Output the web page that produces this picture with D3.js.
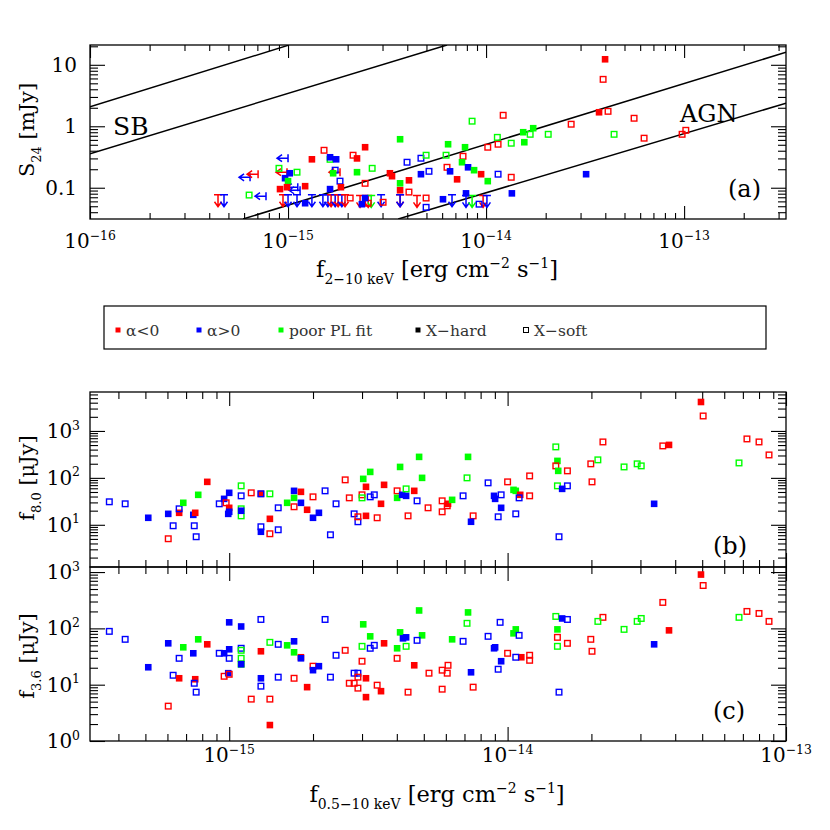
<!DOCTYPE html>
<html>
<head>
<meta charset="utf-8">
<script src="https://cdn.jsdelivr.net/npm/d3@7"></script>
<style>
  body { margin: 0; background: #fff; }
  svg text { font-family: "DejaVu Serif", serif; fill: #000; white-space: pre; }
</style>
</head>
<body>
<script>
// fluxes below are in units of 1e-15 erg cm^-2 s^-1
var FLUX_UNIT = 1e-15;
var groups = ["neg", "pos", "poor"];
var groupColors = ["#ff0000", "#0000ff", "#00ff00"];
var legendLabels = ["α<0", "α>0", "poor PL fit", "X−hard", "X−soft"];

// panel (a): [f(2-10 keV), S24 mJy, group]
var s24Hard = [
  [0.966,0.143,"pos"],[1.0,0.128,"poor"],[0.911,0.095,"neg"],[0.988,0.102,"neg"],[1.22,0.106,"neg"],
  [1.22,0.056,"pos"],[1.32,0.29,"neg"],[1.63,0.313,"pos"],[1.75,0.29,"pos"],[1.69,0.172,"poor"],
  [1.02,0.172,"pos"],[1.63,0.095,"pos"],[1.85,0.102,"neg"],[2.23,0.30,"neg"],[2.23,0.179,"poor"],
  [2.45,0.456,"neg"],[2.36,0.054,"pos"],[2.45,0.068,"pos"],[3.68,0.615,"poor"],[3.27,0.172,"neg"],
  [3.35,0.154,"neg"],[4.08,0.132,"neg"],[3.68,0.118,"poor"],[3.68,0.091,"neg"],[4.69,0.166,"pos"],
  [6.43,0.51,"poor"],[7.83,0.456,"poor"],[7.56,0.26,"poor"],[8.11,0.215,"pos"],[6.58,0.185,"pos"],
  [8.70,0.193,"poor"],[7.14,0.137,"neg"],[9.44,0.166,"neg"],[10.2,0.128,"poor"],[6.06,0.065,"pos"],
  [7.92,0.081,"pos"],[13.5,0.081,"pos"],[17.3,0.93,"poor"],[15.4,0.80,"poor"],[15.6,0.55,"poor"],
  [32.0,0.166,"pos"],[39.9,12.3,"neg"],[37.2,1.69,"neg"]
];
var s24Soft = [
  [0.636,0.076,"poor"],[0.90,0.207,"poor"],[1.11,0.179,"poor"],[1.52,0.407,"neg"],[1.63,0.29,"poor"],
  [1.73,0.193,"pos"],[1.83,0.128,"pos"],[2.13,0.338,"neg"],[2.66,0.207,"poor"],[2.45,0.118,"neg"],
  [2.06,0.068,"neg"],[3.02,0.058,"neg"],[2.54,0.056,"neg"],[3.99,0.26,"pos"],[4.69,0.302,"pos"],
  [4.98,0.338,"poor"],[5.15,0.185,"pos"],[4.08,0.085,"neg"],[4.98,0.068,"neg"],[4.98,0.048,"pos"],
  [6.28,0.338,"poor"],[7.65,0.325,"neg"],[6.35,0.215,"neg"],[11.5,0.166,"pos"],[10.2,0.456,"neg"],
  [11.5,0.51,"neg"],[11.4,0.66,"poor"],[8.50,1.21,"poor"],[12.2,1.51,"neg"],[13.4,0.53,"poor"],
  [16.7,0.74,"poor"],[20.6,0.74,"poor"],[26.9,1.08,"neg"],[13.4,0.148,"neg"],[9.22,0.054,"pos"],
  [39.0,5.8,"neg"],[41.3,1.75,"neg"],[55.9,1.35,"neg"],[44.3,0.74,"poor"],[62.8,0.64,"neg"],
  [97.7,0.74,"neg"],[102,0.86,"neg"]
];
// upper limits on S24
var s24LimitS = [
  [0.443,0.077,"neg"],[0.475,0.077,"pos"],[0.943,0.077,"neg"],[1.0,0.077,"pos"],[1.11,0.077,"pos"],
  [1.32,0.077,"pos"],[1.50,0.077,"pos"],[1.59,0.077,"pos"],[1.65,0.077,"neg"],[1.73,0.077,"pos"],
  [1.79,0.077,"neg"],[1.87,0.077,"pos"],[1.94,0.077,"neg"],[2.31,0.075,"neg"],[2.54,0.075,"neg"],
  [2.63,0.075,"poor"],[2.95,0.077,"pos"],[3.68,0.077,"neg"],[3.68,0.077,"pos"],[4.48,0.075,"neg"],
  [6.73,0.077,"pos"],[7.92,0.075,"pos"],[8.50,0.075,"poor"],[9.66,0.075,"neg"],[10.1,0.075,"pos"]
];
// upper limits on f(2-10 keV)
var s24LimitF = [
  [1.0,0.302,"pos"],[0.643,0.148,"pos"],[0.706,0.166,"neg"],[0.774,0.073,"pos"],[0.988,0.179,"neg"],
  [1.12,0.102,"pos"],[1.15,0.091,"pos"],[1.83,0.179,"neg"]
];
// SB and AGN loci, [f, S24] end points (cgs, mJy)
var sbLines = [[[1e-16,2.07],[1e-15,20.7]], [[1e-16,0.357],[6.35e-15,21]]];
var agnLines = [[[5.93e-16,0.031],[3.27e-13,16.0]], [[3.6e-15,0.031],[3.27e-13,2.37]]];

// panel (b): [f(0.5-10 keV), f8.0 uJy, group, H=hard/S=soft]
var f80Points = [
  [0.371,30.9,"pos","S"],[0.423,28.0,"pos","S"],[0.512,14.1,"pos","H"],[0.604,17.1,"pos","H"],[0.604,5.04,"neg","S"],
  [0.629,9.53,"pos","S"],[0.661,18.0,"neg","H"],[0.661,21.9,"pos","S"],[0.684,29.4,"poor","H"],[0.743,16.3,"pos","H"],
  [0.755,18.0,"neg","H"],[0.749,9.53,"pos","S"],[0.761,5.56,"pos","S"],[0.774,43.5,"poor","H"],[0.834,82.2,"neg","H"],
  [0.921,28.0,"pos","S"],[0.959,35.7,"pos","H"],[0.975,29.4,"neg","S"],[1.0,48.0,"pos","H"],[1.0,23.0,"neg","H"],
  [0.992,17.1,"pos","H"],[1.0,18.9,"pos","H"],[1.104,67.6,"poor","S"],[1.104,41.4,"pos","S"],[1.104,21.9,"poor","S"],
  [1.104,15.5,"poor","S"],[1.104,19.9,"pos","H"],[1.20,48.0,"neg","S"],[1.30,45.7,"neg","H"],[1.30,45.7,"pos","S"],
  [1.40,45.7,"poor","S"],[1.30,9.07,"pos","S"],[1.30,7.10,"pos","H"],[1.40,13.4,"neg","H"],[1.40,6.44,"neg","S"],
  [1.50,23.0,"pos","S"],[1.50,7.83,"pos","S"],[1.615,29.4,"poor","H"],[1.71,37.5,"poor","H"],[1.71,24.2,"neg","S"],
  [1.71,52.9,"pos","H"],[1.81,50.4,"neg","H"],[1.81,29.4,"pos","H"],[1.905,20.9,"neg","H"],[2.00,39.4,"neg","S"],
  [2.00,14.1,"pos","H"],[2.10,18.0,"pos","H"],[2.21,52.9,"pos","S"],[2.42,28.0,"pos","S"],[2.31,6.12,"pos","S"],
  [2.61,90.7,"neg","S"],[2.70,37.5,"neg","S"],[3.03,95.2,"poor","H"],[2.81,17.1,"pos","S"],[2.90,11.6,"pos","S"],
  [2.90,14.8,"neg","S"],[3.10,64.4,"neg","H"],[3.10,15.5,"neg","H"],[3.00,43.5,"neg","S"],[3.00,37.5,"poor","S"],
  [3.40,14.1,"neg","S"],[3.21,39.4,"pos","S"],[3.32,43.5,"pos","S"],[3.21,134,"poor","H"],[3.51,28.0,"neg","H"],
  [3.60,71.0,"neg","H"],[4.11,171,"poor","H"],[4.81,280,"poor","H"],[4.93,100,"poor","H"],[4.01,52.9,"neg","S"],
  [4.01,37.5,"poor","H"],[4.18,43.5,"pos","H"],[4.32,41.4,"pos","H"],[4.32,58.3,"poor","S"],[4.62,52.9,"neg","H"],
  [4.73,32.4,"pos","S"],[4.39,15.5,"neg","S"],[5.18,23.0,"neg","S"],[5.82,32.4,"neg","S"],[5.82,18.9,"neg","S"],
  [6.07,25.4,"neg","S"],[6.11,28.0,"neg","H"],[6.32,34.0,"poor","H"],[6.92,41.4,"pos","S"],[7.52,15.5,"neg","S"],
  [7.39,11.6,"pos","H"],[7.21,280,"poor","H"],[7.15,100,"poor","S"],[8.51,78.3,"pos","S"],[10.0,82.2,"neg","S"],
  [10.5,55.5,"poor","H"],[10.7,52.9,"poor","H"],[11.1,43.5,"neg","H"],[11.0,37.5,"pos","S"],[8.94,41.4,"pos","H"],
  [9.02,35.7,"pos","H"],[9.48,43.5,"pos","S"],[9.48,23.0,"pos","H"],[9.25,14.8,"pos","S"],[10.7,17.1,"pos","S"],
  [12.0,110,"neg","S"],[12.0,41.4,"neg","S"],[14.9,457,"poor","S"],[15.1,230,"poor","H"],[14.9,180,"neg","S"],
  [15.2,141,"poor","H"],[16.4,141,"neg","S"],[15.1,67.6,"poor","S"],[15.7,58.3,"pos","H"],[16.4,67.6,"pos","S"],
  [15.3,5.56,"pos","S"],[19.9,199,"neg","S"],[20.1,82.2,"neg","S"],[22.0,583,"neg","S"],[21.1,242,"poor","S"],
  [26.2,171,"poor","S"],[29.2,199,"poor","S"],[30.2,180,"poor","S"],[33.6,28.0,"pos","H"],[36.1,480,"neg","S"],
  [38.0,504,"neg","H"],[49.5,4140,"neg","H"],[50.4,2085,"neg","S"],[67.8,208,"poor","S"],[72.4,676,"neg","S"],
  [80.0,583,"neg","S"],[86.9,308,"neg","S"]
];
// panel (c): [f(0.5-10 keV), f3.6 uJy, group, H/S]
var f36Points = [
  [0.371,88.5,"pos","S"],[0.423,63.9,"pos","S"],[0.512,20.4,"pos","H"],[0.604,54.3,"pos","H"],[0.604,4.16,"neg","S"],
  [0.629,14.7,"pos","S"],[0.661,13.0,"neg","H"],[0.661,29.4,"pos","S"],[0.684,46.1,"poor","H"],[0.743,36.1,"pos","H"],
  [0.755,12.5,"neg","H"],[0.749,10.6,"pos","S"],[0.761,7.37,"pos","S"],[0.774,63.9,"poor","H"],[0.834,52.1,"neg","H"],
  [0.921,36.1,"pos","S"],[0.959,36.1,"pos","H"],[0.959,14.1,"neg","S"],[1.0,128,"pos","H"],[1.0,42.5,"pos","H"],
  [0.992,16.0,"pos","H"],[1.0,15.3,"neg","S"],[1.0,29.4,"pos","S"],[1.104,108,"pos","H"],[1.104,44.3,"pos","S"],
  [1.104,40.8,"poor","S"],[1.104,29.4,"poor","S"],[1.104,23.1,"poor","S"],[1.104,23.1,"pos","H"],[1.20,5.54,"neg","S"],
  [1.30,39.2,"neg","H"],[1.30,144,"pos","S"],[1.40,56.5,"poor","S"],[1.30,13.0,"pos","H"],[1.30,9.41,"pos","S"],
  [1.40,1.92,"neg","H"],[1.40,5.54,"neg","S"],[1.50,52.1,"pos","S"],[1.50,13.6,"pos","S"],[1.615,50.0,"poor","H"],
  [1.71,37.6,"poor","H"],[1.71,58.9,"pos","H"],[1.71,13.0,"neg","S"],[1.81,30.7,"neg","H"],[1.81,29.4,"pos","H"],
  [1.905,9.04,"neg","H"],[2.00,21.3,"neg","S"],[2.00,18.1,"pos","H"],[2.10,21.3,"pos","H"],[2.21,144,"pos","S"],
  [2.42,33.3,"pos","S"],[2.31,13.6,"pos","S"],[2.61,40.8,"neg","S"],[2.70,10.6,"neg","S"],[3.03,118,"poor","H"],
  [2.81,16.0,"pos","S"],[2.90,16.0,"pos","S"],[2.81,10.6,"neg","S"],[2.90,8.68,"neg","S"],[2.90,13.6,"neg","S"],
  [3.10,13.0,"neg","H"],[3.10,6.01,"neg","H"],[3.00,26.1,"neg","S"],[3.00,48.0,"poor","S"],[3.40,9.8,"neg","S"],
  [3.21,44.3,"pos","S"],[3.32,50.0,"pos","S"],[3.21,72.2,"poor","H"],[3.51,7.67,"neg","H"],[3.60,54.3,"neg","H"],
  [4.11,85.0,"poor","H"],[4.81,208,"poor","H"],[4.93,75.2,"poor","H"],[4.01,29.4,"neg","S"],[4.01,44.3,"poor","H"],
  [4.21,66.5,"pos","H"],[4.32,69.3,"pos","H"],[4.32,48.0,"poor","S"],[4.62,22.1,"neg","H"],[4.73,61.3,"pos","S"],
  [4.39,7.37,"neg","S"],[5.22,16.0,"neg","S"],[5.82,18.1,"neg","S"],[5.82,8.32,"neg","S"],[6.07,16.0,"neg","S"],
  [6.11,22.1,"neg","S"],[6.32,63.9,"poor","H"],[6.92,58.9,"pos","S"],[7.52,9.04,"neg","S"],[7.39,16.6,"pos","H"],
  [7.21,192,"poor","H"],[7.15,123,"poor","S"],[8.51,72.2,"pos","S"],[9.40,128,"pos","S"],[9.02,46.1,"pos","H"],
  [8.94,44.3,"pos","H"],[9.48,26.1,"pos","H"],[9.25,18.8,"pos","S"],[10.0,36.1,"neg","S"],[10.5,81.6,"poor","H"],
  [10.7,96.0,"poor","H"],[11.0,75.2,"pos","S"],[11.2,30.7,"neg","H"],[10.7,30.7,"pos","S"],[12.0,33.3,"neg","S"],
  [12.0,27.1,"neg","S"],[14.9,163,"poor","S"],[15.7,150,"pos","H"],[16.4,144,"pos","S"],[15.1,96.0,"poor","H"],
  [15.1,69.3,"neg","S"],[16.4,54.3,"neg","S"],[15.1,48.0,"poor","S"],[15.3,7.37,"pos","S"],[19.9,63.9,"neg","S"],
  [20.1,39.2,"neg","S"],[22.0,157,"neg","S"],[21.1,133,"poor","S"],[26.2,96.0,"poor","S"],[29.2,133,"poor","S"],
  [30.2,150,"poor","S"],[33.6,52.1,"pos","H"],[36.1,289,"neg","S"],[38.0,92.2,"neg","H"],[49.5,903,"neg","H"],
  [50.4,577,"neg","S"],[67.8,157,"poor","S"],[72.4,200,"neg","S"],[80.0,184,"neg","S"],[86.9,133,"neg","S"]
];

var svg = d3.select("body").append("svg").attr("width", 830).attr("height", 830);
var color = d3.scaleOrdinal().domain(groups).range(groupColors);
var plotL = 90, plotR = 786;

var xA = d3.scaleLog().domain([1e-16, 3.27e-13]).range([plotL, plotR]),
  yA = d3.scaleLog().domain([0.031, 21]).range([219, 45]);
var xBC = d3.scaleLog().domain([Math.pow(10, -15.5), 1e-13]).range([plotL, plotR]),
  yB = d3.scaleLog().domain([1.26, 6760]).range([567, 392]),
  yC = d3.scaleLog().domain([1, 1230]).range([741, 567]);

function logTicks(scale) {
  var d = scale.domain(), lo = Math.min(d[0], d[1]), hi = Math.max(d[0], d[1]);
  var major = [], minor = [];
  for (var e = Math.floor(Math.log10(lo)); e <= Math.ceil(Math.log10(hi)); e++) {
    for (var m = 1; m <= 9; m++) {
      var v = m * Math.pow(10, e);
      if (v < lo * 0.9999 || v > hi * 1.0001) continue;
      if (m === 1) major.push(v); else minor.push(v);
    }
  }
  return {major: major, minor: minor};
}

function tickSet(axis, scale, tr, majLen, minLen) {
  var t = logTicks(scale);
  [[t.major, majLen], [t.minor, minLen]].forEach(function (p) {
    svg.append("g").attr("transform", tr)
      .call(axis(scale).tickValues(p[0]).tickSize(-p[1]).tickFormat(""))
      .call(function (g) { g.select(".domain").remove(); })
      .selectAll("line").attr("stroke", "#000").attr("stroke-width", 1.1);
  });
}

function frame(x0, y0, x1, y1) {
  svg.append("rect").attr("x", x0).attr("y", y0).attr("width", x1 - x0).attr("height", y1 - y0)
    .attr("fill", "none").attr("stroke", "#000").attr("stroke-width", 1.3);
}

// text with sub/superscripts: parts = [[text, ""|"sub"|"sup"], ...]
function rich(t, parts, size) {
  var shift = 0;
  parts.forEach(function (p) {
    var kind = p[1] || "";
    var target = kind === "sub" ? size * 0.32 : kind === "sup" ? -size * 0.42 : 0;
    t.append("tspan").attr("dy", target - shift)
      .style("font-size", (kind ? size * 0.62 : size) + "px").text(p[0]);
    shift = target;
  });
  return t;
}

function powLabel(x, y, exp, anchor) {
  var t = svg.append("text").attr("x", x).attr("y", y).attr("text-anchor", anchor);
  return rich(t, [["10"], [exp, "sup"]], 20);
}

function expOf(v) { return String(Math.round(Math.log10(v))).replace("-", "−"); }

// ---------- panel (a)
frame(plotL, 45, plotR, 219);
tickSet(d3.axisBottom, xA, "translate(0,219)", 13, 6);
tickSet(d3.axisTop, xA, "translate(0,45)", 13, 6);
tickSet(d3.axisLeft, yA, "translate(" + plotL + ",0)", 15, 8);
tickSet(d3.axisRight, yA, "translate(" + plotR + ",0)", 15, 8);

logTicks(xA).major.forEach(function (v) { powLabel(xA(v), 248, expOf(v), "middle"); });
[[0.1, "0.1"], [1, "1"], [10, "10"]].forEach(function (p) {
  svg.append("text").attr("x", 77).attr("y", yA(p[0]) + 7).attr("text-anchor", "end")
    .style("font-size", "20px").text(p[1]);
});

svg.append("clipPath").attr("id", "clipA").append("rect")
  .attr("x", plotL).attr("y", 45).attr("width", plotR - plotL).attr("height", 174);

var locus = d3.line().x(function (d) { return xA(d[0]); }).y(function (d) { return yA(d[1]); });
svg.append("g").attr("clip-path", "url(#clipA)").selectAll("path")
  .data(sbLines.concat(agnLines)).enter().append("path")
  .attr("d", locus).attr("fill", "none").attr("stroke", "#000").attr("stroke-width", 1.5);

svg.append("text").attr("x", 113).attr("y", 135).style("font-size", "25px").text("SB");
svg.append("text").attr("x", 680).attr("y", 122).style("font-size", "24px").text("AGN");

function drawSquares(rows, xs, ys, isHard) {
  svg.append("g").selectAll("rect").data(rows).enter().append("rect")
    .each(function (d) {
      var hard = isHard(d), s = hard ? 6.6 : 5.6;
      d3.select(this)
        .attr("x", xs(d[0] * FLUX_UNIT) - s / 2).attr("y", ys(d[1]) - s / 2)
        .attr("width", s).attr("height", s)
        .attr("fill", hard ? color(d[2]) : "none")
        .attr("stroke", hard ? "none" : color(d[2]))
        .attr("stroke-width", 1.4);
    });
}

function downArrow(d) {
  var x = xA(d[0] * FLUX_UNIT), y = yA(d[1]);
  return "M" + (x - 4) + "," + y + "H" + (x + 4) + "M" + x + "," + y + "V" + (y + 12) +
    "M" + (x - 3.5) + "," + (y + 7) + "L" + x + "," + (y + 12) + "L" + (x + 3.5) + "," + (y + 7);
}
function leftArrow(d) {
  var x = xA(d[0] * FLUX_UNIT), y = yA(d[1]);
  return "M" + x + "," + (y - 4) + "V" + (y + 4) + "M" + x + "," + y + "H" + (x - 11) +
    "M" + (x - 6) + "," + (y - 3.5) + "L" + (x - 11) + "," + y + "L" + (x - 6) + "," + (y + 3.5);
}

svg.append("g").selectAll("path").data(s24LimitS).enter().append("path")
  .attr("d", downArrow).attr("fill", "none").attr("stroke-width", 1.5)
  .attr("stroke", function (d) { return color(d[2]); });
svg.append("g").selectAll("path").data(s24LimitF).enter().append("path")
  .attr("d", leftArrow).attr("fill", "none").attr("stroke-width", 1.5)
  .attr("stroke", function (d) { return color(d[2]); });
drawSquares(s24Soft, xA, yA, function () { return false; });
drawSquares(s24Hard, xA, yA, function () { return true; });

svg.append("text").attr("x", 728).attr("y", 197).style("font-size", "24px").text("(a)");

var tA = svg.append("text").attr("x", 437).attr("y", 277).attr("text-anchor", "middle");
rich(tA, [["f"], ["2−10 keV", "sub"], [" [erg cm"], ["−2", "sup"], [" s"], ["−1", "sup"], ["]"]], 22.5);
var sA = svg.append("text").attr("transform", "translate(34,130) rotate(-90)").attr("text-anchor", "middle");
rich(sA, [["S"], ["24", "sub"], [" [mJy]"]], 21);

// ---------- legend
svg.append("rect").attr("x", 104).attr("y", 306).attr("width", 662).attr("height", 43)
  .attr("fill", "none").attr("stroke", "#000").attr("stroke-width", 1.2);
var legendX = [118, 199, 281, 418, 526];
var legendColor = groupColors.concat(["#000", "#000"]);
legendLabels.forEach(function (lab, i) {
  var open = i === 4;
  svg.append("rect").attr("x", legendX[i] - 2.5).attr("y", 330 - 2.5).attr("width", 5).attr("height", 5)
    .attr("fill", open ? "none" : legendColor[i]).attr("stroke", open ? "#000" : "none").attr("stroke-width", 1);
  svg.append("text").attr("x", legendX[i] + 8).attr("y", 336).style("font-size", "15.5px")
    .style("fill", "#333").text(lab);
});

// ---------- panels (b) and (c)
frame(plotL, 392, plotR, 567);
frame(plotL, 567, plotR, 741);
tickSet(d3.axisTop, xBC, "translate(0,392)", 14, 7);
tickSet(d3.axisBottom, xBC, "translate(0,567)", 14, 7);
tickSet(d3.axisTop, xBC, "translate(0,567)", 14, 7);
tickSet(d3.axisBottom, xBC, "translate(0,741)", 14, 7);
tickSet(d3.axisLeft, yB, "translate(" + plotL + ",0)", 15, 8);
tickSet(d3.axisRight, yB, "translate(" + plotR + ",0)", 15, 8);
tickSet(d3.axisLeft, yC, "translate(" + plotL + ",0)", 15, 8);
tickSet(d3.axisRight, yC, "translate(" + plotR + ",0)", 15, 8);

logTicks(yB).major.forEach(function (v) { powLabel(80, yB(v) + 7, expOf(v), "end"); });
logTicks(yC).major.forEach(function (v) { powLabel(80, yC(v) + 7, expOf(v), "end"); });
logTicks(xBC).major.forEach(function (v) { powLabel(xBC(v), 762, expOf(v), "middle"); });

drawSquares(f80Points, xBC, yB, function (d) { return d[3] === "H"; });
drawSquares(f36Points, xBC, yC, function (d) { return d[3] === "H"; });

svg.append("text").attr("x", 713).attr("y", 554).style("font-size", "24px").text("(b)");
svg.append("text").attr("x", 713).attr("y", 719).style("font-size", "24px").text("(c)");

var tB = svg.append("text").attr("transform", "translate(34,478) rotate(-90)").attr("text-anchor", "middle");
rich(tB, [["f"], ["8.0", "sub"], [" [μJy]"]], 21);
var tC = svg.append("text").attr("transform", "translate(34,656) rotate(-90)").attr("text-anchor", "middle");
rich(tC, [["f"], ["3.6", "sub"], [" [μJy]"]], 21);
var tX = svg.append("text").attr("x", 437).attr("y", 802).attr("text-anchor", "middle");
rich(tX, [["f"], ["0.5−10 keV", "sub"], [" [erg cm"], ["−2", "sup"], [" s"], ["−1", "sup"], ["]"]], 22.5);
</script>
</body>
</html>
